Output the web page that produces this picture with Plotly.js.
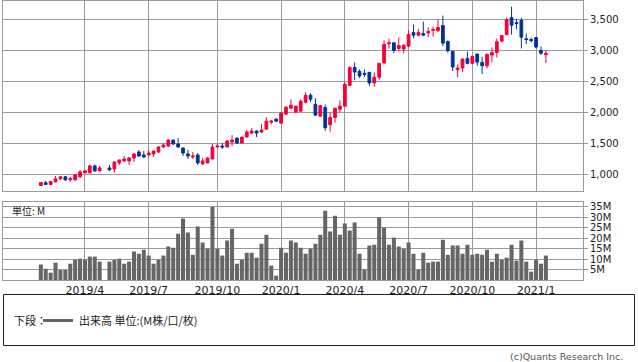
<!DOCTYPE html>
<html>
<head>
<meta charset="utf-8">
<script src="https://cdn.plot.ly/plotly-3.0.1.min.js"></script>
<style>html,body{margin:0;padding:0;background:#fff;}#chart{width:638px;height:362px;}</style>
</head>
<body>
<div id="chart"></div>
<script>
// Weekly candles (week starting Monday)
const dates = [
'2019-01-28','2019-02-04','2019-02-11','2019-02-18','2019-02-25','2019-03-04','2019-03-11','2019-03-18','2019-03-25',
'2019-04-01','2019-04-08','2019-04-15','2019-04-22','2019-05-06','2019-05-13','2019-05-20','2019-05-27',
'2019-06-03','2019-06-10','2019-06-17','2019-06-24','2019-07-01','2019-07-08','2019-07-15','2019-07-22','2019-07-29',
'2019-08-05','2019-08-12','2019-08-19','2019-08-26','2019-09-02','2019-09-09','2019-09-16','2019-09-23','2019-09-30',
'2019-10-07','2019-10-14','2019-10-21','2019-10-28','2019-11-04','2019-11-11','2019-11-18','2019-11-25',
'2019-12-02','2019-12-09','2019-12-16','2019-12-23','2019-12-30',
'2020-01-06','2020-01-13','2020-01-20','2020-01-27','2020-02-03','2020-02-10','2020-02-17','2020-02-24',
'2020-03-02','2020-03-09','2020-03-16','2020-03-23','2020-03-30','2020-04-06','2020-04-13','2020-04-20','2020-04-27',
'2020-05-04','2020-05-11','2020-05-18','2020-05-25','2020-06-01','2020-06-08','2020-06-15','2020-06-22','2020-06-29',
'2020-07-06','2020-07-13','2020-07-20','2020-07-27','2020-08-03','2020-08-10','2020-08-17','2020-08-24','2020-08-31',
'2020-09-07','2020-09-14','2020-09-21','2020-09-28','2020-10-05','2020-10-12','2020-10-19','2020-10-26',
'2020-11-02','2020-11-09','2020-11-16','2020-11-23','2020-11-30','2020-12-07','2020-12-14','2020-12-21','2020-12-28',
'2021-01-04','2021-01-11','2021-01-18'
];
const openP = [829,872,845,888,936,968,920,920,968,1032,1032,1145,1064,1112,1096,1193,1225,1225,1273,1369,1321,1321,1337,1369,1450,1466,1562,1498,1434,1337,1289,1321,1177,1193,1257,1450,1466,1450,1530,1594,1514,1610,1674,1707,1691,1739,1851,1899,1835,1980,2076,2012,2028,2172,2285,2140,1947,2087,1808,1926,2060,2108,2445,2734,2670,2638,2654,2483,2574,2804,3114,3130,3039,3029,3077,3296,3254,3280,3291,3329,3329,3409,3152,2991,2697,2724,2879,2799,2948,2815,2761,2932,2975,3157,3264,3537,3457,3494,3195,3184,3216,3007,2938];
const highP = [885,904,900,984,984,984,968,1016,1080,1080,1166,1166,1145,1161,1215,1245,1305,1289,1353,1401,1385,1401,1390,1466,1514,1578,1565,1594,1440,1401,1369,1353,1273,1289,1498,1498,1514,1562,1642,1600,1615,1723,1755,1723,1819,1931,1883,1915,2012,2108,2220,2115,2220,2333,2317,2237,2125,2135,2001,2080,2204,2493,2750,2815,2702,2702,2660,2654,2805,3168,3195,3135,3216,3104,3329,3425,3355,3473,3382,3393,3505,3569,3168,2996,2783,2884,2991,2927,2959,2906,2959,3055,3200,3252,3537,3714,3521,3537,3280,3216,3220,3072,3007];
const lowP = [825,840,840,877,920,904,888,904,952,1027,1027,1048,1060,1064,1032,1161,1209,1161,1209,1289,1273,1305,1289,1353,1434,1450,1482,1434,1305,1257,1257,1161,1161,1185,1250,1445,1418,1445,1466,1498,1510,1605,1658,1610,1674,1723,1819,1851,1819,1975,2070,1996,2020,2156,2172,1947,1940,1712,1696,1840,2012,2100,2429,2526,2563,2579,2435,2419,2526,2800,3034,2964,2991,2959,3061,3200,3232,3238,3221,3232,3302,3077,2975,2675,2574,2659,2783,2790,2761,2627,2718,2815,2895,3141,3248,3264,3345,3039,3109,3136,3039,2932,2804];
const closeP = [877,845,893,936,968,920,936,1000,1048,1064,1145,1064,1112,1080,1209,1241,1257,1273,1337,1305,1289,1353,1385,1450,1482,1562,1498,1450,1353,1305,1305,1193,1225,1273,1450,1466,1450,1546,1562,1514,1610,1691,1707,1674,1723,1867,1867,1867,1996,2092,2124,2108,2188,2285,2220,1964,2119,1760,1926,2076,2108,2461,2734,2659,2595,2622,2483,2574,2799,3104,3130,3007,3088,3093,3264,3254,3296,3254,3312,3345,3377,3125,3002,2740,2724,2868,2799,2911,2820,2761,2943,2975,3147,3248,3505,3414,3441,3221,3184,3168,3061,2964,2959];
// Volume in millions of shares
const volumeM = [7.4,5.4,3.5,8.3,4.8,4.8,7.8,9.7,10.2,9.7,11.2,11.2,8.8,
8.8,9.7,10.2,7.8,8.8,13.6,12.6,14.5,11.7,7.8,9.7,11.7,16.0,15.5,22.2,29.4,22.7,12.1,25.6,17.9,15.0,35.0,15.0,11.7,18.9,24.6,7.8,9.7,13.1,13.1,10.7,17.4,21.7,6.9,2.1,
15.5,13.1,18.9,17.9,15.5,12.6,15.0,17.4,21.7,
33.2,23.2,30.8,21.7,27.0,23.7,27.5,12.6,5.0,16.5,16.9,29.9,25.1,16.9,20.3,16.0,15.0,17.9,12.6,5.0,13.1,8.3,8.8,8.8,19.3,12.1,16.5,16.5,12.6,16.9,12.1,12.6,12.1,14.5,8.8,12.6,9.7,10.7,16.9,9.3,18.9,8.8,4.0,9.7,7.8,11.7];

const xTickDates = ['2019-04-01','2019-07-01','2019-10-07','2020-01-06','2020-04-06','2020-07-06','2020-10-05','2021-01-04'];
const xTickLabels = ['2019/4','2019/7','2019/10','2020/1','2020/4','2020/7','2020/10','2021/1'];
const priceTicks = [1000,1500,2000,2500,3000,3500];
const priceTickLabels = ['1,000','1,500','2,000','2,500','3,000','3,500'];
const volTicks = [5,10,15,20,25,30,35];
const volTickLabels = ['5M','10M','15M','20M','25M','30M','35M'];

const W = 638, H = 362, M = {l:3, r:55, t:1, b:82};
const pw = W - M.l - M.r, ph = H - M.t - M.b;
const px = x => (x - M.l) / pw;
const py = y => (H - M.b - y) / ph;

const RED = '#f5003a', BLUE = '#003399', GRID = '#9a9a9a';
const tickFont = {family: 'DejaVu Sans, Verdana, sans-serif', size: 10, color: '#222'};
const jpFont = {family: 'Noto Sans CJK JP, sans-serif', size: 11, color: '#222'};

const traces = [
  {
    type: 'candlestick', x: dates, open: openP, high: highP, low: lowP, close: closeP,
    xaxis: 'x', yaxis: 'y',
    increasing: {line: {color: RED, width: 1}, fillcolor: RED},
    decreasing: {line: {color: BLUE, width: 1}, fillcolor: BLUE},
    whiskerwidth: 0, hoverinfo: 'skip'
  },
  {
    type: 'bar', x: dates, y: volumeM, xaxis: 'x', yaxis: 'y2',
    marker: {color: '#666666', line: {width: 0}}, hoverinfo: 'skip'
  }
];

const layout = {
  width: W, height: H, margin: M,
  paper_bgcolor: '#fff', plot_bgcolor: '#fff',
  showlegend: false, boxgap: 0.2, bargap: 0.18,
  xaxis: {
    type: 'date', range: ['2018-12-05', '2021-03-12'], anchor: 'y2',
    tickmode: 'array', tickvals: xTickDates, ticktext: xTickLabels,
    showgrid: true, gridcolor: GRID, gridwidth: 1,
    showline: true, linecolor: GRID, linewidth: 1, mirror: 'all',
    ticks: '', tickfont: Object.assign({}, tickFont, {size: 11}),
    rangeslider: {visible: false}, zeroline: false, fixedrange: true
  },
  yaxis: {
    domain: [py(190.5), 1], range: [748, 3805], side: 'right', anchor: 'x',
    tickmode: 'array', tickvals: priceTicks, ticktext: priceTickLabels,
    showgrid: true, gridcolor: GRID, gridwidth: 1,
    showline: true, linecolor: GRID, linewidth: 1, mirror: true,
    ticks: 'outside', ticklen: 4, tickcolor: GRID, tickfont: tickFont,
    zeroline: false, fixedrange: true
  },
  yaxis2: {
    domain: [0, py(201.7)], range: [0, 37.5], side: 'right', anchor: 'x',
    tickmode: 'array', tickvals: volTicks, ticktext: volTickLabels,
    showgrid: true, gridcolor: GRID, gridwidth: 1,
    showline: true, linecolor: GRID, linewidth: 1, mirror: true,
    ticks: 'outside', ticklen: 4, tickcolor: GRID, tickfont: tickFont,
    zeroline: false, fixedrange: true
  },
  shapes: [
    {type: 'rect', xref: 'paper', yref: 'paper', x0: px(3.5), x1: px(634.5), y0: py(294.5), y1: py(345.5),
     line: {color: '#222', width: 1}, fillcolor: 'rgba(0,0,0,0)'},
    {type: 'line', xref: 'paper', yref: 'paper', x0: px(43), x1: px(73), y0: py(320.5), y1: py(320.5),
     line: {color: '#666', width: 3}}
  ],
  annotations: [
    {xref: 'paper', yref: 'paper', x: px(10), y: py(210), xanchor: 'left', yanchor: 'middle',
     text: '単位: M', showarrow: false, font: Object.assign({}, jpFont, {size: 10})},
    {xref: 'paper', yref: 'paper', x: px(12), y: py(320), xanchor: 'left', yanchor: 'middle',
     text: '下段：', showarrow: false, font: jpFont},
    {xref: 'paper', yref: 'paper', x: px(77), y: py(320), xanchor: 'left', yanchor: 'middle',
     text: '出来高 単位:(M株/口/枚)', showarrow: false, font: jpFont},
    {xref: 'paper', yref: 'paper', x: px(625), y: py(356), xanchor: 'right', yanchor: 'middle',
     text: '(c)Quants Research Inc.', showarrow: false,
     font: {family: 'DejaVu Sans, sans-serif', size: 9.5, color: '#555'}}
  ]
};

Plotly.newPlot('chart', traces, layout, {staticPlot: true, displayModeBar: false});
</script>
</body>
</html>
